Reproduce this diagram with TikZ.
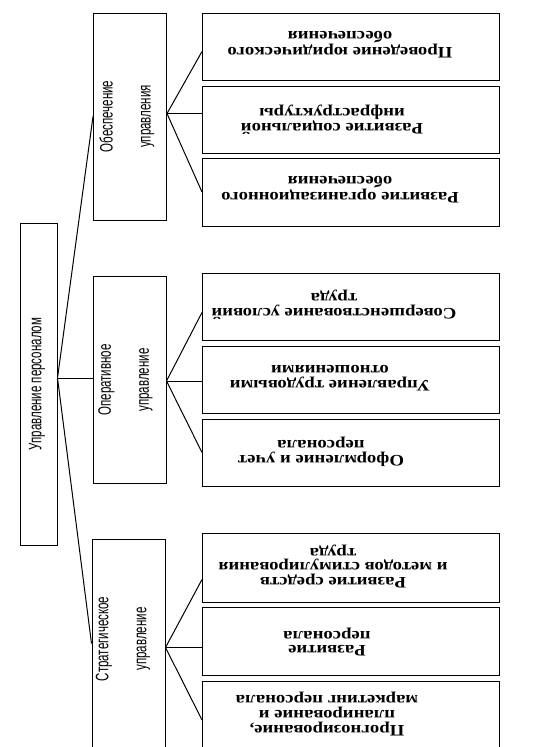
\documentclass[tikz,border=0pt]{standalone}
\usepackage{fontspec}
\setmainfont{Liberation Serif}
\newfontfamily\rfont[FakeStretch=1.17]{Liberation Serif}
\newfontfamily\nsans[FakeStretch=0.64]{Liberation Sans}
\usetikzlibrary{calc}
\begin{document}
\begin{tikzpicture}[x=1pt,y=-1pt,
  box/.style={draw=black,line width=1pt,inner sep=0pt,fill=white},
  rootbox/.style={box,minimum width=37pt,minimum height=322pt},
  midbox/.style={box,minimum width=73pt,minimum height=207pt},
  rbox/.style={box,minimum width=297pt,minimum height=67pt},
  rtext/.style={rotate=180,align=center,inner sep=0pt,font=\rfont\bfseries\fontsize{16pt}{14.8pt}\selectfont},
  mtext/.style={rotate=90,align=center,inner sep=0pt,font=\nsans\fontsize{18pt}{38pt}\selectfont},
  conn/.style={draw=black,line width=1pt}]
\useasboundingbox (0,0) rectangle (540,747);
\clip (0,0) rectangle (540,747);
% root
\node[rootbox] (root) at (38.5,384) {};
\node[mtext] (roott) at (37,384) {Управление персоналом};
% middle
\node[midbox] (m1) at (130,116.5) {};
\node[mtext] (m1t) at (127,116.5) {Обеспечение\\управления};
\node[midbox] (m2) at (129.5,380) {};
\node[mtext] (m2t) at (125.5,380) {Оперативное\\управление};
\node[midbox,minimum height=209pt] (m3) at (128.5,643.5) {};
\node[mtext] (m3t) at (123,639) {Стратегическое\\управление};
% right boxes
\node[rbox] (r1) at (351,46.5) {};
\node[rtext] (r1t) at (340,45) {Проведение юридического\\обеспечения};
\node[rbox] (r2) at (351,119.5) {};
\node[rtext] (r2t) at (332,119.5) {Развитие социальной\\инфраструктуры};
\node[rbox,minimum height=68pt] (r3) at (351,192) {};
\node[rtext] (r3t) at (340,190) {Развитие организационного\\обеспечения};
\node[rbox] (r4) at (351,306.5) {};
\node[rtext] (r4t) at (334,305) {Совершенствование условий\\труда};
\node[rbox] (r5) at (351,379.5) {};
\node[rtext] (r5t) at (330,378.5) {Управление трудовыми\\отношениями};
\node[rbox] (r6) at (351,452.5) {};
\node[rtext] (r6t) at (321,451.5) {Оформление и учет\\персонала};
\node[rbox,minimum height=69pt] (r7) at (351,567.5) {};
\node[rtext] (r7t) at (333,566.5) {Развитие средств\\и методов стимулирования\\труда};
\node[rbox,minimum height=68pt] (r8) at (351,641) {};
\node[rtext] (r8t) at (327,642) {Развитие\\персонала};
\node[rbox,minimum height=68pt] (r9) at (351,715) {};
\node[rtext] (r9t) at (327,714) {Прогнозирование,\\планирование и\\маркетинг персонала};
% connectors
\coordinate (jr) at ($(root.east)+(0,-6)$);
\draw[conn] (jr) -- (m1.west);
\draw[conn] (jr) -- (jr -| m2.west);
\draw[conn] (jr) -- (m3.west);
\coordinate (j1) at ($(m1.east)+(0,-3)$);
\draw[conn] (j1) -- ($(r1.west)+(0,5)$);
\draw[conn] (j1) -- (j1 -| r2.west);
\draw[conn] (j1) -- (r3.west);
\coordinate (j2) at ($(m2.east)+(0,1)$);
\draw[conn] (j2) -- ($(r4.west)+(0,6)$);
\draw[conn] (j2) -- (j2 -| r5.west);
\draw[conn] (j2) -- (r6.west);
\coordinate (j3) at ($(m3.east)+(0,4)$);
\draw[conn] (j3) -- ($(r7.west)+(0,12)$);
\draw[conn] (j3) -- (j3 -| r8.west);
\draw[conn] (j3) -- ($(r9.west)+(0,5)$);
\end{tikzpicture}
\end{document}
